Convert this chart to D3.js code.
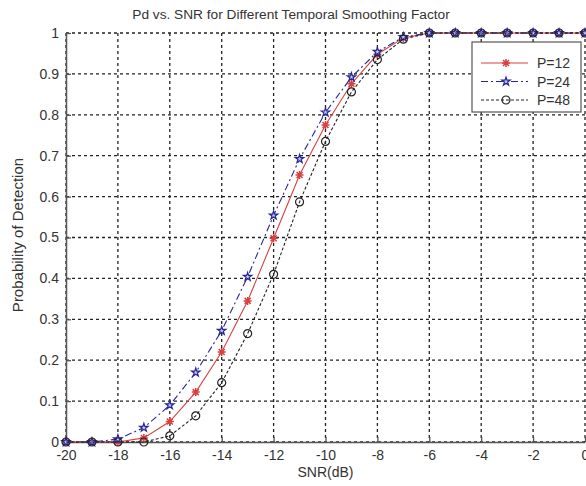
<!DOCTYPE html>
<html>
<head>
<meta charset="utf-8">
<script src="https://cdn.jsdelivr.net/npm/d3@7"></script>
<style>
  body { margin: 0; background: #fff; }
  text { font-family: "Liberation Sans", Arial, sans-serif; fill: #333; }
</style>
</head>
<body>
<svg id="chart" width="586" height="486"></svg>
<script>
// SNR values (dB)
var snr = [-20, -19, -18, -17, -16, -15, -14, -13, -12, -11, -10, -9, -8, -7, -6, -5, -4, -3, -2, -1, 0];

// Pd for each smoothing factor
var pd12 = [0, 0, 0, 0.01, 0.05, 0.122, 0.22, 0.345, 0.498, 0.653, 0.775, 0.876, 0.948, 0.988, 1, 1, 1, 1, 1, 1, 1];
var pd24 = [0, 0, 0.007, 0.035, 0.09, 0.17, 0.272, 0.404, 0.554, 0.692, 0.806, 0.892, 0.954, 0.99, 1, 1, 1, 1, 1, 1, 1];
var pd48 = [0, 0, 0, 0, 0.015, 0.064, 0.145, 0.265, 0.41, 0.587, 0.735, 0.856, 0.935, 0.985, 1, 1, 1, 1, 1, 1, 1];

var xTicks = [-20, -18, -16, -14, -12, -10, -8, -6, -4, -2, 0];
var yTicks = [0, 0.1, 0.2, 0.3, 0.4, 0.5, 0.6, 0.7, 0.8, 0.9, 1];

var series = [
    { name: "P=12", values: pd12, color: "#d9403f", dash: null, marker: "asterisk" },
    { name: "P=24", values: pd24, color: "#27279a", dash: "7,3,2,3", marker: "star" },
    { name: "P=48", values: pd48, color: "#222", dash: "3,2", marker: "circle" }
];

var svg = d3.select("#chart");
var plotLeft = 66, plotRight = 585, plotTop = 33, plotBottom = 442;

var x = d3.scaleLinear().domain([-20, 0]).range([plotLeft, plotRight]);
var y = d3.scaleLinear().domain([0, 1]).range([plotBottom, plotTop]);

// grid
var grid = svg.append("g");
grid.selectAll(".vgrid")
    .data(xTicks)
    .enter()
    .append("line")
    .attr("x1", d => x(d)).attr("x2", d => x(d))
    .attr("y1", plotTop).attr("y2", plotBottom)
    .attr("stroke", "#222").attr("stroke-width", 1.3)
    .attr("stroke-dasharray", "3,3");
grid.selectAll(".hgrid")
    .data(yTicks)
    .enter()
    .append("line")
    .attr("x1", plotLeft).attr("x2", plotRight)
    .attr("y1", d => y(d)).attr("y2", d => y(d))
    .attr("stroke", "#222").attr("stroke-width", 1.3)
    .attr("stroke-dasharray", "3,3");

// axes (MATLAB style: ticks inward)
var xAxis = d3.axisBottom(x).tickValues(xTicks).tickSizeInner(-5).tickSizeOuter(0).tickPadding(8)
    .tickFormat(d => String(d));
var yAxis = d3.axisLeft(y).tickValues(yTicks).tickSizeInner(-5).tickSizeOuter(0).tickPadding(7)
    .tickFormat(d => String(d));

var gx = svg.append("g").attr("transform", "translate(0," + plotBottom + ")").call(xAxis);
var gy = svg.append("g").attr("transform", "translate(" + plotLeft + ",0)").call(yAxis);
[gx, gy].forEach(function (g) {
    g.select(".domain").attr("stroke", "#555").attr("stroke-width", 1.5);
    g.selectAll(".tick line").attr("stroke", "#555").attr("stroke-width", 1.3);
    g.selectAll(".tick text").attr("font-size", "14px").attr("fill", "#333")
        .attr("font-family", "Liberation Sans, Arial, sans-serif");
});

// titles
svg.append("text")
    .attr("x", 291).attr("y", 19)
    .attr("text-anchor", "middle")
    .attr("font-size", "13.7px")
    .text("Pd vs. SNR for Different Temporal Smoothing Factor");
svg.append("text")
    .attr("x", (plotLeft + plotRight) / 2).attr("y", 477)
    .attr("text-anchor", "middle")
    .attr("font-size", "14px")
    .text("SNR(dB)");
svg.append("text")
    .attr("transform", "translate(23,235) rotate(-90)")
    .attr("text-anchor", "middle")
    .attr("font-size", "15px")
    .text("Probability of Detection");

// marker drawing
function drawMarker(g, type, color) {
    if (type === "asterisk") {
        g.append("path")
            .attr("d", "M-4,0L4,0M0,-4L0,4M-3,-3L3,3M-3,3L3,-3")
            .attr("stroke", color).attr("stroke-width", 1.5).attr("fill", "none");
    } else if (type === "star") {
        g.append("path")
            .attr("d", d3.symbol().type(d3.symbolStar).size(22)())
            .attr("stroke", color).attr("stroke-width", 1.2).attr("fill", "#c8c8ee");
    } else {
        g.append("circle")
            .attr("r", 4)
            .attr("stroke", color).attr("stroke-width", 1.2).attr("fill", "none");
    }
}

var line = d3.line()
    .x(function (d, i) { return x(snr[i]); })
    .y(function (d) { return y(d); });

series.forEach(function (s) {
    svg.append("path")
        .datum(s.values)
        .attr("d", line)
        .attr("fill", "none")
        .attr("stroke", s.color)
        .attr("stroke-width", 1.1)
        .attr("stroke-dasharray", s.dash);
    s.values.forEach(function (v, i) {
        var g = svg.append("g").attr("transform", "translate(" + x(snr[i]) + "," + y(v) + ")");
        drawMarker(g, s.marker, s.color);
    });
});

// legend
var lg = svg.append("g").attr("transform", "translate(472,42)");
lg.append("rect")
    .attr("width", 109).attr("height", 70)
    .attr("fill", "#fff").attr("stroke", "#555").attr("stroke-width", 1.2);
series.forEach(function (s, i) {
    var ly = 21 + i * 18.5;
    lg.append("line")
        .attr("x1", 9).attr("x2", 56)
        .attr("y1", ly).attr("y2", ly)
        .attr("stroke", s.color).attr("stroke-width", 1.1)
        .attr("stroke-dasharray", s.dash);
    var m = lg.append("g").attr("transform", "translate(34," + ly + ")");
    drawMarker(m, s.marker, s.color);
    lg.append("text")
        .attr("x", 65).attr("y", ly + 5)
        .attr("font-size", "14px")
        .text(s.name);
});
</script>
</body>
</html>
